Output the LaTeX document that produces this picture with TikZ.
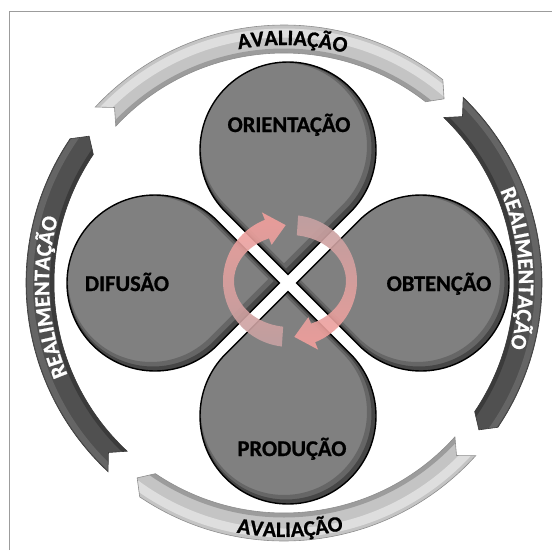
\documentclass[tikz,border=0pt]{standalone}
\usepackage{fontspec}
\setsansfont{Carlito}[BoldFeatures={FakeBold=0.8}]
\usepackage{tikz}
\usetikzlibrary{decorations.text}
\definecolor{lobegray}{HTML}{808080}
\definecolor{avgray}{HTML}{C4C4C4}
\definecolor{avedge}{HTML}{8E8E8E}
\definecolor{regray}{HTML}{505050}
\definecolor{reedge}{HTML}{3A3A3A}
\definecolor{salmon}{HTML}{F4A09C}
\definecolor{mauve}{HTML}{C6A2A3}
\definecolor{framegray}{HTML}{9C9C9C}
\newcommand{\ringfont}{\sffamily\bfseries\fontsize{22}{22}\selectfont}
\newcommand{\droppath}{(\a+180:124.45) -- (\a-135:88) arc[start angle=\a-135, end angle=\a+135, radius=88] -- cycle}
\newcommand{\bandpath}[2]{(#1:258) arc[start angle=#1, end angle=#2, radius=258] -- (#2-3:244) -- (#2:230) arc[start angle=#2, end angle=#1, radius=230] -- (#1-3:244) -- cycle}

\begin{document}
\begin{tikzpicture}[x=1pt, y=1pt,
  lobe/.style={fill=lobegray},
  rim/.style={draw=black, line width=1.4pt},
  lbl/.style={anchor=base, font=\sffamily\bfseries\fontsize{22.5}{22.5}\selectfont, text=black},
  avband/.style={fill=avgray},
  reband/.style={fill=regray},
  ringtxt/.style={decorate, decoration={text along path, text align=center, text={#1}}},
  swirl/.style={draw=none, fill opacity=0.9},
]
  \useasboundingbox (-288,-267) rectangle (264,283);
  \draw[framegray, line width=1pt] (-278,-267) -- (-278,272) -- (264,272);

  % outer ring
  \begin{scope}[shift={(-4,0)}]
    \foreach \t/\h in {137/52, -42/-124}{
      \path[avband] \bandpath{\t}{\h};
      \begin{scope}
        \clip \bandpath{\t}{\h};
        \draw[white, opacity=0.45, line width=9pt] (0,0) circle[radius=250];
        \draw[black, opacity=0.2, line width=7pt] (0,0) circle[radius=231];
      \end{scope}
      \path[draw=avedge, line width=0.6pt] \bandpath{\t}{\h};
    }
    \foreach \t/\h in {46/-34, 227/146}{
      \path[reband] \bandpath{\t}{\h};
      \begin{scope}
        \clip \bandpath{\t}{\h};
        \draw[white, opacity=0.12, line width=6pt] (0,0) circle[radius=254];
        \draw[black, opacity=0.25, line width=6pt] (0,0) circle[radius=231];
      \end{scope}
      \path[draw=reedge, line width=0.6pt] \bandpath{\t}{\h};
    }
    \path[ringtxt={|\ringfont|AVALIAÇÃO}] (128:238) arc[start angle=128, end angle=48, radius=238];
    \path[ringtxt={|\ringfont|AVALIAÇÃO}] (-128.6:254) arc[start angle=-128.6, end angle=-48.6, radius=254];
    \path[ringtxt={|\ringfont\color{white}|REALIMENTAÇÃO}] (43.6:235) arc[start angle=43.6, end angle=-36.4, radius=235];
    \path[ringtxt={|\ringfont\color{white}|REALIMENTAÇÃO}] (223.5:235) arc[start angle=223.5, end angle=143.5, radius=235];
  \end{scope}

  % lobes
  \foreach \a in {90,0,270,180}{
    \path[lobe, shift={(\a:133)}] \droppath;
    \begin{scope}
      \clip[shift={(\a:133)}] \droppath;
      \draw[shift={(\a:133)}, shift={(-4,4)}, line width=10pt, black, opacity=0.2] \droppath;
      \draw[shift={(\a:133)}, shift={(-2,2)}, line width=5pt, black, opacity=0.3] \droppath;
    \end{scope}
    \path[rim, shift={(\a:133)}] \droppath;
  }

  % center arrows
  \begin{scope}[shift={(2,2)}]
    \shade[swirl, top color=salmon, bottom color=mauve] (263:67 and 66) arc[start angle=263, end angle=112, x radius=67, y radius=66] -- (112:75 and 74) -- (94:61.5 and 56) -- (112:49 and 39) -- (112:56 and 46) arc[start angle=112, end angle=263, x radius=56, y radius=46] -- cycle;
    \shade[swirl, top color=mauve, bottom color=salmon] (83:67 and 66) arc[start angle=83, end angle=-68, x radius=67, y radius=66] -- (-68:75 and 74) -- (-86:61.5 and 56) -- (-68:49 and 39) -- (-68:56 and 46) arc[start angle=-68, end angle=83, x radius=56, y radius=46] -- cycle;
  \end{scope}

  \node[lbl] (orient) at (1,151) {ORIENTAÇÃO};
  \node[lbl] (obten) at (151,-8) {OBTENÇÃO};
  \node[lbl] (produ) at (4,-173) {PRODUÇÃO};
  \node[lbl] (difus) at (-161,-8) {DIFUSÃO};
\end{tikzpicture}
\end{document}
